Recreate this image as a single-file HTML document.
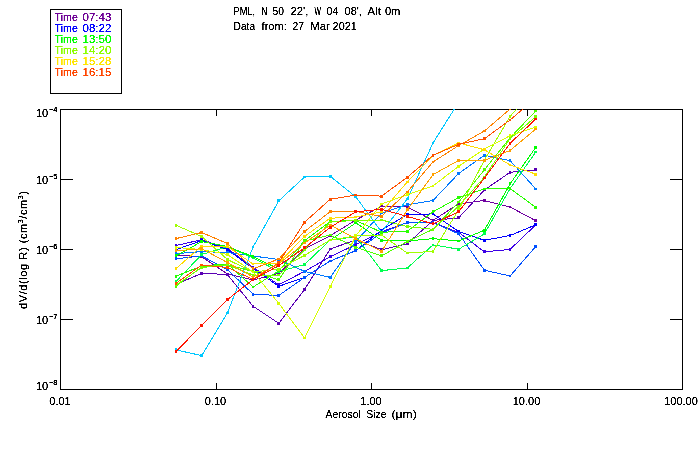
<!DOCTYPE html>
<html><head><meta charset="utf-8"><title>Aerosol size distribution</title>
<style>
html,body{margin:0;padding:0;background:#fff;}
body{width:700px;height:450px;overflow:hidden;position:relative;font-family:"Liberation Sans",sans-serif;}
svg{position:absolute;left:0;top:0;}
text{filter:url(#crisp);font-family:"Liberation Sans",sans-serif;font-size:11px;fill:#000;}
.sup{font-size:7px;}
.soft{filter:url(#crisp2);}
.soft3{filter:url(#crisp3);font-size:7.5px;}
</style></head><body>
<svg width="700" height="450" viewBox="0 0 700 450">
<defs><filter id="crisp" x="-5%" y="-5%" width="110%" height="110%" color-interpolation-filters="sRGB"><feComponentTransfer><feFuncA type="linear" slope="3" intercept="-0.6"/></feComponentTransfer></filter><filter id="crisp2" x="-5%" y="-5%" width="110%" height="110%" color-interpolation-filters="sRGB"><feComponentTransfer><feFuncA type="linear" slope="3" intercept="-0.55"/></feComponentTransfer></filter><filter id="crisp3" x="-10%" y="-10%" width="120%" height="120%" color-interpolation-filters="sRGB"><feComponentTransfer><feFuncA type="linear" slope="3" intercept="-0.35"/></feComponentTransfer></filter><clipPath id="plotclip"><rect x="60" y="109" width="623" height="281"/></clipPath></defs>
<rect x="0" y="0" width="700" height="450" fill="#fff"/>
<!-- legend box -->
<rect x="50.5" y="9.5" width="71" height="84" fill="none" stroke="#000" stroke-width="1" shape-rendering="crispEdges"/>
<text y="21" style="fill:#6e0096"><tspan x="54.6" textLength="23.2" lengthAdjust="spacingAndGlyphs">Time</tspan> <tspan x="82.5" textLength="28.9" lengthAdjust="spacingAndGlyphs">07:43</tspan></text>
<text y="32" style="fill:#0000ff"><tspan x="54.6" textLength="23.2" lengthAdjust="spacingAndGlyphs">Time</tspan> <tspan x="82.5" textLength="28.9" lengthAdjust="spacingAndGlyphs">08:22</tspan></text>
<text y="43" style="fill:#00ff00"><tspan x="54.6" textLength="23.2" lengthAdjust="spacingAndGlyphs">Time</tspan> <tspan x="82.5" textLength="28.9" lengthAdjust="spacingAndGlyphs">13:50</tspan></text>
<text y="54" style="fill:#8cff00"><tspan x="54.6" textLength="23.2" lengthAdjust="spacingAndGlyphs">Time</tspan> <tspan x="82.5" textLength="28.9" lengthAdjust="spacingAndGlyphs">14:20</tspan></text>
<text y="65" style="fill:#ffe600"><tspan x="54.6" textLength="23.2" lengthAdjust="spacingAndGlyphs">Time</tspan> <tspan x="82.5" textLength="28.9" lengthAdjust="spacingAndGlyphs">15:28</tspan></text>
<text y="76" style="fill:#ff4600"><tspan x="54.6" textLength="23.2" lengthAdjust="spacingAndGlyphs">Time</tspan> <tspan x="82.5" textLength="28.9" lengthAdjust="spacingAndGlyphs">16:15</tspan></text>
<!-- titles -->
<text y="15"><tspan x="233.6" textLength="21.5" lengthAdjust="spacingAndGlyphs">PML,</tspan> <tspan x="261.6" textLength="5.8" lengthAdjust="spacingAndGlyphs">N</tspan> <tspan x="272.6" textLength="11.4" lengthAdjust="spacingAndGlyphs">50</tspan> <tspan x="290.6" textLength="17.8" lengthAdjust="spacingAndGlyphs">22',</tspan> <tspan x="314.6" textLength="6.4" lengthAdjust="spacingAndGlyphs">W</tspan> <tspan x="326.6" textLength="11.8" lengthAdjust="spacingAndGlyphs">04</tspan> <tspan x="344.6" textLength="17.2" lengthAdjust="spacingAndGlyphs">08',</tspan> <tspan x="367.6" textLength="13.2" lengthAdjust="spacingAndGlyphs">Alt</tspan> <tspan x="384.9" textLength="15.5" lengthAdjust="spacingAndGlyphs">0m</tspan></text>
<text y="30"><tspan x="233.6" textLength="21.5" lengthAdjust="spacingAndGlyphs">Data</tspan> <tspan x="261.6" textLength="25.2" lengthAdjust="spacingAndGlyphs">from:</tspan> <tspan x="292.6" textLength="11.4" lengthAdjust="spacingAndGlyphs">27</tspan> <tspan x="310.3" textLength="19.4" lengthAdjust="spacingAndGlyphs">Mar</tspan> <tspan x="332.6" textLength="24.2" lengthAdjust="spacingAndGlyphs">2021</tspan></text>
<!-- frame and ticks -->
<g stroke="#000" stroke-width="1" fill="none" shape-rendering="crispEdges">
<rect x="60.5" y="109.5" width="622" height="280"/>
<line x1="216.5" y1="109" x2="216.5" y2="116"/><line x1="216.5" y1="383" x2="216.5" y2="390"/>
<line x1="371.5" y1="109" x2="371.5" y2="116"/><line x1="371.5" y1="383" x2="371.5" y2="390"/>
<line x1="527.5" y1="109" x2="527.5" y2="116"/><line x1="527.5" y1="383" x2="527.5" y2="390"/>
<line x1="60" y1="179.5" x2="73" y2="179.5"/><line x1="670" y1="179.5" x2="683" y2="179.5"/>
<line x1="60" y1="249.5" x2="73" y2="249.5"/><line x1="670" y1="249.5" x2="683" y2="249.5"/>
<line x1="60" y1="319.5" x2="73" y2="319.5"/><line x1="670" y1="319.5" x2="683" y2="319.5"/>
</g>
<!-- data -->
<g clip-path="url(#plotclip)" shape-rendering="crispEdges">
<g stroke="#6e00a0" fill="#6e00a0"><polyline points="176.0,255.0 201.7,256.8 227.4,274.0 253.1,280.0 278.8,273.4 304.5,249.0 330.2,235.7 355.9,220.0 381.6,206.0 407.3,207.0 433.0,220.4 458.7,203.8 484.4,200.5 510.1,207.0 535.8,220.7" fill="none" stroke-width="1"/>
<rect x="175" y="254" width="2" height="2" stroke="none"/>
<rect x="200" y="255" width="3" height="3" stroke="none"/>
<rect x="226" y="273" width="3" height="2" stroke="none"/>
<rect x="252" y="279" width="2" height="2" stroke="none"/>
<rect x="277" y="272" width="3" height="3" stroke="none"/>
<rect x="303" y="248" width="3" height="2" stroke="none"/>
<rect x="329" y="234" width="3" height="3" stroke="none"/>
<rect x="354" y="219" width="3" height="2" stroke="none"/>
<rect x="380" y="205" width="3" height="2" stroke="none"/>
<rect x="406" y="206" width="3" height="2" stroke="none"/>
<rect x="432" y="219" width="2" height="3" stroke="none"/>
<rect x="457" y="202" width="3" height="3" stroke="none"/>
<rect x="483" y="199" width="3" height="3" stroke="none"/>
<rect x="509" y="206" width="2" height="2" stroke="none"/>
<rect x="534" y="219" width="3" height="3" stroke="none"/>
</g>
<g stroke="#5a00b4" fill="#5a00b4"><polyline points="176.0,284.5 201.7,273.3 227.4,274.5 253.1,306.3 278.8,323.3 304.5,289.5 330.2,248.9 355.9,240.0 381.6,249.7 407.3,243.8 433.0,220.4 458.7,217.8 484.4,190.0 510.1,172.3 535.8,169.8" fill="none" stroke-width="1"/>
<rect x="175" y="283" width="2" height="3" stroke="none"/>
<rect x="200" y="272" width="3" height="3" stroke="none"/>
<rect x="226" y="273" width="3" height="3" stroke="none"/>
<rect x="252" y="305" width="2" height="3" stroke="none"/>
<rect x="277" y="322" width="3" height="3" stroke="none"/>
<rect x="303" y="288" width="3" height="3" stroke="none"/>
<rect x="329" y="248" width="3" height="2" stroke="none"/>
<rect x="354" y="239" width="3" height="2" stroke="none"/>
<rect x="380" y="248" width="3" height="3" stroke="none"/>
<rect x="406" y="242" width="3" height="3" stroke="none"/>
<rect x="432" y="219" width="2" height="3" stroke="none"/>
<rect x="457" y="216" width="3" height="3" stroke="none"/>
<rect x="483" y="189" width="3" height="2" stroke="none"/>
<rect x="509" y="171" width="2" height="3" stroke="none"/>
<rect x="534" y="168" width="3" height="3" stroke="none"/>
</g>
<g stroke="#3c00e6" fill="#3c00e6"><polyline points="176.0,245.5 201.7,239.7 227.4,248.5 253.1,267.4 278.8,284.7 304.5,271.4 330.2,256.7 355.9,244.5 381.6,231.8 407.3,222.4 433.0,222.5 458.7,232.5 484.4,251.8 510.1,249.4 535.8,224.8" fill="none" stroke-width="1"/>
<rect x="175" y="244" width="2" height="3" stroke="none"/>
<rect x="200" y="238" width="3" height="3" stroke="none"/>
<rect x="226" y="247" width="3" height="3" stroke="none"/>
<rect x="252" y="266" width="2" height="3" stroke="none"/>
<rect x="277" y="283" width="3" height="3" stroke="none"/>
<rect x="303" y="270" width="3" height="3" stroke="none"/>
<rect x="329" y="255" width="3" height="3" stroke="none"/>
<rect x="354" y="243" width="3" height="3" stroke="none"/>
<rect x="380" y="230" width="3" height="3" stroke="none"/>
<rect x="406" y="221" width="3" height="3" stroke="none"/>
<rect x="432" y="221" width="2" height="3" stroke="none"/>
<rect x="457" y="231" width="3" height="3" stroke="none"/>
<rect x="483" y="250" width="3" height="3" stroke="none"/>
<rect x="509" y="248" width="2" height="3" stroke="none"/>
<rect x="534" y="223" width="3" height="3" stroke="none"/>
</g>
<g stroke="#0000ff" fill="#0000ff"><polyline points="176.0,249.6 201.7,240.5 227.4,249.5 253.1,268.5 278.8,286.3 304.5,277.4 330.2,261.0 355.9,250.6 381.6,230.0 407.3,214.6 433.0,213.9 458.7,231.6 484.4,240.3 510.1,235.5 535.8,224.8" fill="none" stroke-width="1"/>
<rect x="175" y="248" width="2" height="3" stroke="none"/>
<rect x="200" y="239" width="3" height="3" stroke="none"/>
<rect x="226" y="248" width="3" height="3" stroke="none"/>
<rect x="252" y="267" width="2" height="3" stroke="none"/>
<rect x="277" y="285" width="3" height="3" stroke="none"/>
<rect x="303" y="276" width="3" height="3" stroke="none"/>
<rect x="329" y="260" width="3" height="2" stroke="none"/>
<rect x="354" y="249" width="3" height="3" stroke="none"/>
<rect x="380" y="229" width="3" height="2" stroke="none"/>
<rect x="406" y="213" width="3" height="3" stroke="none"/>
<rect x="432" y="212" width="2" height="3" stroke="none"/>
<rect x="457" y="230" width="3" height="3" stroke="none"/>
<rect x="483" y="239" width="3" height="3" stroke="none"/>
<rect x="509" y="234" width="2" height="3" stroke="none"/>
<rect x="534" y="223" width="3" height="3" stroke="none"/>
</g>
<g stroke="#0050ff" fill="#0050ff"><polyline points="176.0,258.8 201.7,256.0 227.4,269.5 253.1,294.2 278.8,295.5 304.5,277.4 330.2,261.0 355.9,250.6 381.6,233.0 407.3,222.4 433.0,222.5 458.7,233.8 484.4,270.3 510.1,276.0 535.8,246.4" fill="none" stroke-width="1"/>
<rect x="175" y="257" width="2" height="3" stroke="none"/>
<rect x="200" y="255" width="3" height="2" stroke="none"/>
<rect x="226" y="268" width="3" height="3" stroke="none"/>
<rect x="252" y="293" width="2" height="3" stroke="none"/>
<rect x="277" y="294" width="3" height="3" stroke="none"/>
<rect x="303" y="276" width="3" height="3" stroke="none"/>
<rect x="329" y="260" width="3" height="2" stroke="none"/>
<rect x="354" y="249" width="3" height="3" stroke="none"/>
<rect x="380" y="232" width="3" height="2" stroke="none"/>
<rect x="406" y="221" width="3" height="3" stroke="none"/>
<rect x="432" y="221" width="2" height="3" stroke="none"/>
<rect x="457" y="232" width="3" height="3" stroke="none"/>
<rect x="483" y="269" width="3" height="3" stroke="none"/>
<rect x="509" y="275" width="2" height="2" stroke="none"/>
<rect x="534" y="245" width="3" height="3" stroke="none"/>
</g>
<g stroke="#0078ff" fill="#0078ff"><polyline points="176.0,253.6 201.7,251.6 227.4,252.5 253.1,256.0 278.8,259.5 304.5,271.4 330.2,277.4 355.9,241.4 381.6,213.0 407.3,204.8 433.0,200.5 458.7,173.4 484.4,155.3 510.1,160.7 535.8,188.9" fill="none" stroke-width="1"/>
<rect x="175" y="252" width="2" height="3" stroke="none"/>
<rect x="200" y="250" width="3" height="3" stroke="none"/>
<rect x="226" y="251" width="3" height="3" stroke="none"/>
<rect x="252" y="255" width="2" height="2" stroke="none"/>
<rect x="277" y="258" width="3" height="3" stroke="none"/>
<rect x="303" y="270" width="3" height="3" stroke="none"/>
<rect x="329" y="276" width="3" height="3" stroke="none"/>
<rect x="354" y="240" width="3" height="3" stroke="none"/>
<rect x="380" y="212" width="3" height="2" stroke="none"/>
<rect x="406" y="203" width="3" height="3" stroke="none"/>
<rect x="432" y="199" width="2" height="3" stroke="none"/>
<rect x="457" y="172" width="3" height="3" stroke="none"/>
<rect x="483" y="154" width="3" height="3" stroke="none"/>
<rect x="509" y="159" width="2" height="3" stroke="none"/>
<rect x="534" y="188" width="3" height="2" stroke="none"/>
</g>
<g stroke="#00c8ff" fill="#00c8ff"><polyline points="176.0,349.9 201.7,355.6 227.4,313.0 253.1,247.0 278.8,200.8 304.5,177.0 330.2,176.2 355.9,197.0 381.6,232.0 407.3,199.0 433.0,143.0 458.7,102.0 484.4,70.0 510.1,50.0 535.8,40.0" fill="none" stroke-width="1"/>
<rect x="175" y="348" width="2" height="3" stroke="none"/>
<rect x="200" y="354" width="3" height="3" stroke="none"/>
<rect x="226" y="312" width="3" height="2" stroke="none"/>
<rect x="252" y="246" width="2" height="2" stroke="none"/>
<rect x="277" y="199" width="3" height="3" stroke="none"/>
<rect x="303" y="176" width="3" height="2" stroke="none"/>
<rect x="329" y="175" width="3" height="3" stroke="none"/>
<rect x="354" y="196" width="3" height="2" stroke="none"/>
<rect x="380" y="231" width="3" height="2" stroke="none"/>
<rect x="406" y="198" width="3" height="2" stroke="none"/>
<rect x="432" y="142" width="2" height="2" stroke="none"/>
<rect x="457" y="101" width="3" height="2" stroke="none"/>
<rect x="483" y="69" width="3" height="2" stroke="none"/>
<rect x="509" y="49" width="2" height="2" stroke="none"/>
<rect x="534" y="39" width="3" height="2" stroke="none"/>
</g>
<g stroke="#00ff50" fill="#00ff50"><polyline points="176.0,281.5 201.7,254.5 227.4,246.8 253.1,258.0 278.8,271.4 304.5,264.6 330.2,240.0 355.9,236.7 381.6,270.6 407.3,268.0 433.0,244.9 458.7,249.2 484.4,233.8 510.1,188.5 535.8,152.0" fill="none" stroke-width="1"/>
<rect x="175" y="280" width="2" height="3" stroke="none"/>
<rect x="200" y="253" width="3" height="3" stroke="none"/>
<rect x="226" y="245" width="3" height="3" stroke="none"/>
<rect x="252" y="257" width="2" height="2" stroke="none"/>
<rect x="277" y="270" width="3" height="3" stroke="none"/>
<rect x="303" y="263" width="3" height="3" stroke="none"/>
<rect x="329" y="239" width="3" height="2" stroke="none"/>
<rect x="354" y="235" width="3" height="3" stroke="none"/>
<rect x="380" y="269" width="3" height="3" stroke="none"/>
<rect x="406" y="267" width="3" height="2" stroke="none"/>
<rect x="432" y="244" width="2" height="2" stroke="none"/>
<rect x="457" y="248" width="3" height="3" stroke="none"/>
<rect x="483" y="232" width="3" height="3" stroke="none"/>
<rect x="509" y="187" width="2" height="3" stroke="none"/>
<rect x="534" y="151" width="3" height="2" stroke="none"/>
</g>
<g stroke="#00ff00" fill="#00ff00"><polyline points="176.0,255.9 201.7,241.5 227.4,246.5 253.1,256.6 278.8,269.0 304.5,255.4 330.2,240.0 355.9,222.9 381.6,240.3 407.3,241.0 433.0,238.6 458.7,241.0 484.4,230.2 510.1,183.8 535.8,147.3" fill="none" stroke-width="1"/>
<rect x="175" y="254" width="2" height="3" stroke="none"/>
<rect x="200" y="240" width="3" height="3" stroke="none"/>
<rect x="226" y="245" width="3" height="3" stroke="none"/>
<rect x="252" y="255" width="2" height="3" stroke="none"/>
<rect x="277" y="268" width="3" height="2" stroke="none"/>
<rect x="303" y="254" width="3" height="3" stroke="none"/>
<rect x="329" y="239" width="3" height="2" stroke="none"/>
<rect x="354" y="222" width="3" height="2" stroke="none"/>
<rect x="380" y="239" width="3" height="3" stroke="none"/>
<rect x="406" y="240" width="3" height="2" stroke="none"/>
<rect x="432" y="237" width="2" height="3" stroke="none"/>
<rect x="457" y="240" width="3" height="2" stroke="none"/>
<rect x="483" y="229" width="3" height="3" stroke="none"/>
<rect x="509" y="182" width="2" height="3" stroke="none"/>
<rect x="534" y="146" width="3" height="3" stroke="none"/>
</g>
<g stroke="#28ff00" fill="#28ff00"><polyline points="176.0,276.2 201.7,266.0 227.4,264.0 253.1,287.0 278.8,270.9 304.5,240.7 330.2,221.4 355.9,220.5 381.6,232.3 407.3,231.2 433.0,211.8 458.7,197.6 484.4,188.9 510.1,188.5 535.8,207.4" fill="none" stroke-width="1"/>
<rect x="175" y="275" width="2" height="3" stroke="none"/>
<rect x="200" y="265" width="3" height="2" stroke="none"/>
<rect x="226" y="263" width="3" height="2" stroke="none"/>
<rect x="252" y="286" width="2" height="2" stroke="none"/>
<rect x="277" y="270" width="3" height="2" stroke="none"/>
<rect x="303" y="239" width="3" height="3" stroke="none"/>
<rect x="329" y="220" width="3" height="3" stroke="none"/>
<rect x="354" y="219" width="3" height="3" stroke="none"/>
<rect x="380" y="231" width="3" height="3" stroke="none"/>
<rect x="406" y="230" width="3" height="3" stroke="none"/>
<rect x="432" y="210" width="2" height="3" stroke="none"/>
<rect x="457" y="196" width="3" height="3" stroke="none"/>
<rect x="483" y="188" width="3" height="2" stroke="none"/>
<rect x="509" y="187" width="2" height="3" stroke="none"/>
<rect x="534" y="206" width="3" height="3" stroke="none"/>
</g>
<g stroke="#50ff00" fill="#50ff00"><polyline points="176.0,286.2 201.7,267.0 227.4,264.7 253.1,271.6 278.8,279.9 304.5,241.0 330.2,235.0 355.9,247.4 381.6,255.9 407.3,241.5 433.0,229.3 458.7,202.0 484.4,169.8 510.1,137.8 535.8,111.0" fill="none" stroke-width="1"/>
<rect x="175" y="285" width="2" height="3" stroke="none"/>
<rect x="200" y="266" width="3" height="2" stroke="none"/>
<rect x="226" y="263" width="3" height="3" stroke="none"/>
<rect x="252" y="270" width="2" height="3" stroke="none"/>
<rect x="277" y="278" width="3" height="3" stroke="none"/>
<rect x="303" y="240" width="3" height="2" stroke="none"/>
<rect x="329" y="234" width="3" height="2" stroke="none"/>
<rect x="354" y="246" width="3" height="3" stroke="none"/>
<rect x="380" y="254" width="3" height="3" stroke="none"/>
<rect x="406" y="240" width="3" height="3" stroke="none"/>
<rect x="432" y="228" width="2" height="3" stroke="none"/>
<rect x="457" y="201" width="3" height="2" stroke="none"/>
<rect x="483" y="168" width="3" height="3" stroke="none"/>
<rect x="509" y="136" width="2" height="3" stroke="none"/>
<rect x="534" y="110" width="3" height="2" stroke="none"/>
</g>
<g stroke="#78ff00" fill="#78ff00"><polyline points="176.0,285.0 201.7,267.5 227.4,265.0 253.1,275.0 278.8,275.0 304.5,250.0 330.2,222.0 355.9,220.4 381.6,220.0 407.3,226.6 433.0,229.3 458.7,206.2 484.4,177.0 510.1,138.7 535.8,116.8" fill="none" stroke-width="1"/>
<rect x="175" y="284" width="2" height="2" stroke="none"/>
<rect x="200" y="266" width="3" height="3" stroke="none"/>
<rect x="226" y="264" width="3" height="2" stroke="none"/>
<rect x="252" y="274" width="2" height="2" stroke="none"/>
<rect x="277" y="274" width="3" height="2" stroke="none"/>
<rect x="303" y="249" width="3" height="2" stroke="none"/>
<rect x="329" y="221" width="3" height="2" stroke="none"/>
<rect x="354" y="219" width="3" height="3" stroke="none"/>
<rect x="380" y="219" width="3" height="2" stroke="none"/>
<rect x="406" y="225" width="3" height="3" stroke="none"/>
<rect x="432" y="228" width="2" height="3" stroke="none"/>
<rect x="457" y="205" width="3" height="3" stroke="none"/>
<rect x="483" y="176" width="3" height="2" stroke="none"/>
<rect x="509" y="137" width="2" height="3" stroke="none"/>
<rect x="534" y="115" width="3" height="3" stroke="none"/>
</g>
<g stroke="#a0ff00" fill="#a0ff00"><polyline points="176.0,225.2 201.7,236.5 227.4,259.5 253.1,272.0 278.8,269.2 304.5,255.4 330.2,240.0 355.9,236.0 381.6,235.0 407.3,253.1 433.0,251.3 458.7,209.9 484.4,160.0 510.1,116.4 535.8,88.0" fill="none" stroke-width="1"/>
<rect x="175" y="224" width="2" height="3" stroke="none"/>
<rect x="200" y="235" width="3" height="3" stroke="none"/>
<rect x="226" y="258" width="3" height="3" stroke="none"/>
<rect x="252" y="271" width="2" height="2" stroke="none"/>
<rect x="277" y="268" width="3" height="3" stroke="none"/>
<rect x="303" y="254" width="3" height="3" stroke="none"/>
<rect x="329" y="239" width="3" height="2" stroke="none"/>
<rect x="354" y="235" width="3" height="2" stroke="none"/>
<rect x="380" y="234" width="3" height="2" stroke="none"/>
<rect x="406" y="252" width="3" height="2" stroke="none"/>
<rect x="432" y="250" width="2" height="3" stroke="none"/>
<rect x="457" y="208" width="3" height="3" stroke="none"/>
<rect x="483" y="159" width="3" height="2" stroke="none"/>
<rect x="509" y="115" width="2" height="3" stroke="none"/>
<rect x="534" y="87" width="3" height="2" stroke="none"/>
</g>
<g stroke="#d7ff00" fill="#d7ff00"><polyline points="176.0,247.5 201.7,249.5 227.4,254.5 253.1,272.0 278.8,303.3 304.5,338.0 330.2,286.7 355.9,235.7 381.6,204.0 407.3,194.7 433.0,186.0 458.7,166.2 484.4,149.0 510.1,135.7 535.8,127.1" fill="none" stroke-width="1"/>
<rect x="175" y="246" width="2" height="3" stroke="none"/>
<rect x="200" y="248" width="3" height="3" stroke="none"/>
<rect x="226" y="253" width="3" height="3" stroke="none"/>
<rect x="252" y="271" width="2" height="2" stroke="none"/>
<rect x="277" y="302" width="3" height="3" stroke="none"/>
<rect x="303" y="337" width="3" height="2" stroke="none"/>
<rect x="329" y="285" width="3" height="3" stroke="none"/>
<rect x="354" y="234" width="3" height="3" stroke="none"/>
<rect x="380" y="203" width="3" height="2" stroke="none"/>
<rect x="406" y="193" width="3" height="3" stroke="none"/>
<rect x="432" y="185" width="2" height="2" stroke="none"/>
<rect x="457" y="165" width="3" height="3" stroke="none"/>
<rect x="483" y="148" width="3" height="2" stroke="none"/>
<rect x="509" y="134" width="2" height="3" stroke="none"/>
<rect x="534" y="126" width="3" height="2" stroke="none"/>
</g>
<g stroke="#ffdc00" fill="#ffdc00"><polyline points="176.0,268.7 201.7,246.0 227.4,246.5 253.1,264.0 278.8,263.0 304.5,236.4 330.2,218.2 355.9,217.1 381.6,211.8 407.3,182.0 433.0,155.7 458.7,142.9 484.4,149.8 510.1,165.0 535.8,174.2" fill="none" stroke-width="1"/>
<rect x="175" y="267" width="2" height="3" stroke="none"/>
<rect x="200" y="245" width="3" height="2" stroke="none"/>
<rect x="226" y="245" width="3" height="3" stroke="none"/>
<rect x="252" y="263" width="2" height="2" stroke="none"/>
<rect x="277" y="262" width="3" height="2" stroke="none"/>
<rect x="303" y="235" width="3" height="3" stroke="none"/>
<rect x="329" y="217" width="3" height="3" stroke="none"/>
<rect x="354" y="216" width="3" height="2" stroke="none"/>
<rect x="380" y="210" width="3" height="3" stroke="none"/>
<rect x="406" y="181" width="3" height="2" stroke="none"/>
<rect x="432" y="154" width="2" height="3" stroke="none"/>
<rect x="457" y="142" width="3" height="2" stroke="none"/>
<rect x="483" y="148" width="3" height="3" stroke="none"/>
<rect x="509" y="164" width="2" height="2" stroke="none"/>
<rect x="534" y="173" width="3" height="3" stroke="none"/>
</g>
<g stroke="#ffa000" fill="#ffa000"><polyline points="176.0,250.8 201.7,248.7 227.4,262.5 253.1,277.0 278.8,264.0 304.5,243.0 330.2,225.1 355.9,238.8 381.6,251.3 407.3,209.9 433.0,174.7 458.7,160.3 484.4,160.3 510.1,150.5 535.8,129.0" fill="none" stroke-width="1"/>
<rect x="175" y="249" width="2" height="3" stroke="none"/>
<rect x="200" y="247" width="3" height="3" stroke="none"/>
<rect x="226" y="261" width="3" height="3" stroke="none"/>
<rect x="252" y="276" width="2" height="2" stroke="none"/>
<rect x="277" y="263" width="3" height="2" stroke="none"/>
<rect x="303" y="242" width="3" height="2" stroke="none"/>
<rect x="329" y="224" width="3" height="2" stroke="none"/>
<rect x="354" y="237" width="3" height="3" stroke="none"/>
<rect x="380" y="250" width="3" height="3" stroke="none"/>
<rect x="406" y="208" width="3" height="3" stroke="none"/>
<rect x="432" y="173" width="2" height="3" stroke="none"/>
<rect x="457" y="159" width="3" height="3" stroke="none"/>
<rect x="483" y="159" width="3" height="3" stroke="none"/>
<rect x="509" y="149" width="2" height="3" stroke="none"/>
<rect x="534" y="128" width="3" height="2" stroke="none"/>
</g>
<g stroke="#ff8200" fill="#ff8200"><polyline points="176.0,238.6 201.7,232.5 227.4,243.5 253.1,268.8 278.8,259.0 304.5,231.5 330.2,211.7 355.9,211.4 381.6,216.4 407.3,192.0 433.0,162.0 458.7,145.5 484.4,131.0 510.1,109.0 535.8,85.0" fill="none" stroke-width="1"/>
<rect x="175" y="237" width="2" height="3" stroke="none"/>
<rect x="200" y="231" width="3" height="3" stroke="none"/>
<rect x="226" y="242" width="3" height="3" stroke="none"/>
<rect x="252" y="267" width="2" height="3" stroke="none"/>
<rect x="277" y="258" width="3" height="2" stroke="none"/>
<rect x="303" y="230" width="3" height="3" stroke="none"/>
<rect x="329" y="210" width="3" height="3" stroke="none"/>
<rect x="354" y="210" width="3" height="3" stroke="none"/>
<rect x="380" y="215" width="3" height="3" stroke="none"/>
<rect x="406" y="191" width="3" height="2" stroke="none"/>
<rect x="432" y="161" width="2" height="2" stroke="none"/>
<rect x="457" y="144" width="3" height="3" stroke="none"/>
<rect x="483" y="130" width="3" height="2" stroke="none"/>
<rect x="509" y="108" width="2" height="2" stroke="none"/>
<rect x="534" y="84" width="3" height="2" stroke="none"/>
</g>
<g stroke="#ff5000" fill="#ff5000"><polyline points="176.0,283.3 201.7,265.0 227.4,267.5 253.1,279.5 278.8,262.7 304.5,222.3 330.2,199.3 355.9,195.1 381.6,196.1 407.3,177.3 433.0,155.3 458.7,144.3 484.4,138.7 510.1,120.0 535.8,98.0" fill="none" stroke-width="1"/>
<rect x="175" y="282" width="2" height="3" stroke="none"/>
<rect x="200" y="264" width="3" height="2" stroke="none"/>
<rect x="226" y="266" width="3" height="3" stroke="none"/>
<rect x="252" y="278" width="2" height="3" stroke="none"/>
<rect x="277" y="261" width="3" height="3" stroke="none"/>
<rect x="303" y="221" width="3" height="3" stroke="none"/>
<rect x="329" y="198" width="3" height="3" stroke="none"/>
<rect x="354" y="194" width="3" height="2" stroke="none"/>
<rect x="380" y="195" width="3" height="3" stroke="none"/>
<rect x="406" y="176" width="3" height="3" stroke="none"/>
<rect x="432" y="154" width="2" height="3" stroke="none"/>
<rect x="457" y="143" width="3" height="3" stroke="none"/>
<rect x="483" y="137" width="3" height="3" stroke="none"/>
<rect x="509" y="119" width="2" height="2" stroke="none"/>
<rect x="534" y="97" width="3" height="2" stroke="none"/>
</g>
<g stroke="#ff1400" fill="#ff1400"><polyline points="176.0,351.4 201.7,325.5 227.4,299.6 253.1,279.5 278.8,265.6 304.5,247.9 330.2,227.3 355.9,211.8 381.6,209.3 407.3,216.4 433.0,223.9 458.7,211.7 484.4,178.0 510.1,143.3 535.8,119.0" fill="none" stroke-width="1"/>
<rect x="175" y="350" width="2" height="3" stroke="none"/>
<rect x="200" y="324" width="3" height="3" stroke="none"/>
<rect x="226" y="298" width="3" height="3" stroke="none"/>
<rect x="252" y="278" width="2" height="3" stroke="none"/>
<rect x="277" y="264" width="3" height="3" stroke="none"/>
<rect x="303" y="246" width="3" height="3" stroke="none"/>
<rect x="329" y="226" width="3" height="3" stroke="none"/>
<rect x="354" y="210" width="3" height="3" stroke="none"/>
<rect x="380" y="208" width="3" height="3" stroke="none"/>
<rect x="406" y="215" width="3" height="3" stroke="none"/>
<rect x="432" y="222" width="2" height="3" stroke="none"/>
<rect x="457" y="210" width="3" height="3" stroke="none"/>
<rect x="483" y="177" width="3" height="2" stroke="none"/>
<rect x="509" y="142" width="2" height="3" stroke="none"/>
<rect x="534" y="118" width="3" height="2" stroke="none"/>
</g>
</g>
<text x="60" y="405" text-anchor="middle">0.01</text>
<text x="215.5" y="405" text-anchor="middle">0.10</text>
<text x="371" y="405" text-anchor="middle">1.00</text>
<text x="526.5" y="405" text-anchor="middle">10.00</text>
<text x="681" y="405" text-anchor="middle">100.00</text>
<text y="418"><tspan x="325.6" textLength="35.1" lengthAdjust="spacingAndGlyphs">Aerosol</tspan> <tspan x="366.2" textLength="20.5" lengthAdjust="spacingAndGlyphs">Size</tspan> <tspan x="391.6" textLength="25.1" lengthAdjust="spacingAndGlyphs">(μm)</tspan></text>
<text x="36" y="117">10</text><text class="soft3" x="49" y="112" textLength="8.5" lengthAdjust="spacingAndGlyphs">−4</text>
<text x="36" y="184">10</text><text class="soft3" x="49" y="179" textLength="8.5" lengthAdjust="spacingAndGlyphs">−5</text>
<text x="36" y="254">10</text><text class="soft3" x="49" y="249" textLength="8.5" lengthAdjust="spacingAndGlyphs">−6</text>
<text x="36" y="324">10</text><text class="soft3" x="49" y="319" textLength="8.5" lengthAdjust="spacingAndGlyphs">−7</text>
<text x="36" y="390">10</text><text class="soft3" x="49" y="385" textLength="8.5" lengthAdjust="spacingAndGlyphs">−8</text>
<text class="soft" transform="translate(27,250) rotate(-90)" text-anchor="middle" textLength="118" lengthAdjust="spacing">dV/d(log R) (cm<tspan class="sup" dy="-4">3</tspan><tspan dy="4">/cm</tspan><tspan class="sup" dy="-4">3</tspan><tspan dy="4">)</tspan></text>
</svg></body></html>
